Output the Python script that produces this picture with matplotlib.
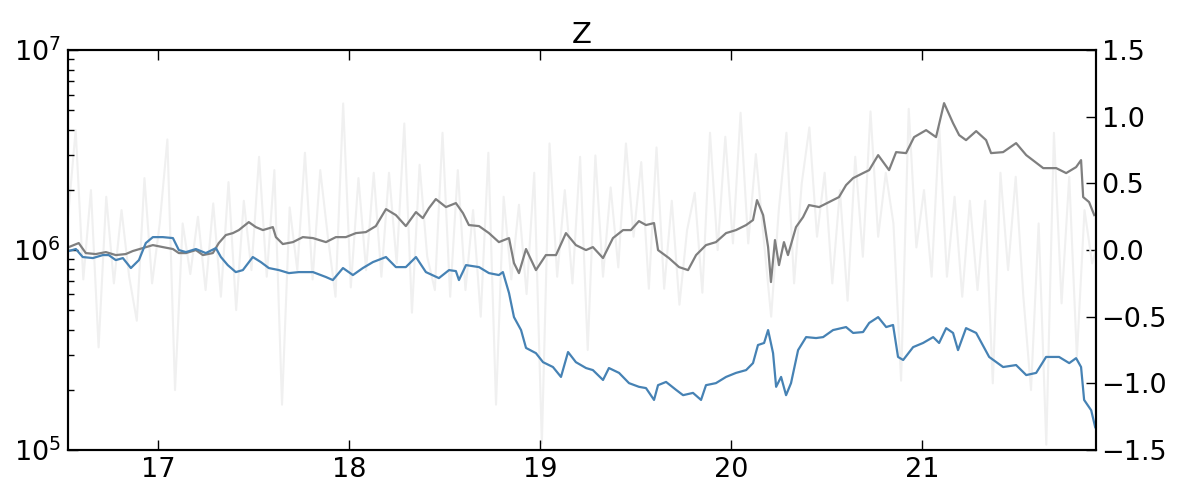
import numpy as np
import matplotlib
matplotlib.use("Agg")
import matplotlib.pyplot as plt

# grey series (left, log axis)
grey_x = [16.534, 16.586, 16.623, 16.675, 16.728, 16.780, 16.832, 16.869, 16.921, 16.974,
          17.026, 17.079, 17.110, 17.147, 17.199, 17.236, 17.288, 17.319, 17.356, 17.393,
          17.424, 17.476, 17.513, 17.550, 17.602, 17.618, 17.654, 17.707, 17.759, 17.812,
          17.880, 17.932, 17.984, 18.037, 18.089, 18.141, 18.194, 18.246, 18.298, 18.351,
          18.387, 18.419, 18.455, 18.508, 18.560, 18.597, 18.628, 18.681, 18.733, 18.785,
          18.838, 18.864, 18.890, 18.927, 18.979, 19.031, 19.084, 19.136, 19.188, 19.241,
          19.277, 19.330, 19.382, 19.435, 19.476, 19.518, 19.555, 19.597, 19.618, 19.675,
          19.728, 19.775, 19.817, 19.869, 19.921, 19.974, 20.026, 20.079, 20.115, 20.136,
          20.168, 20.194, 20.209, 20.230, 20.251, 20.277, 20.298, 20.340, 20.377, 20.408,
          20.461, 20.513, 20.565, 20.602, 20.639, 20.691, 20.723, 20.770, 20.827, 20.864,
          20.916, 20.958, 21.021, 21.073, 21.115, 21.162, 21.194, 21.230, 21.283, 21.335,
          21.361, 21.424, 21.492, 21.545, 21.634, 21.702, 21.754, 21.806, 21.832, 21.843,
          21.874, 21.901]
grey_y = [1.035e6, 1.084e6, 0.966e6, 0.955e6, 0.977e6, 0.944e6, 0.955e6, 0.989e6, 1.023e6, 1.059e6,
          1.035e6, 1.012e6, 0.966e6, 0.966e6, 1.000e6, 0.944e6, 0.966e6, 1.084e6, 1.189e6, 1.216e6,
          1.259e6, 1.380e6, 1.303e6, 1.259e6, 1.303e6, 1.161e6, 1.072e6, 1.096e6, 1.161e6, 1.148e6,
          1.096e6, 1.161e6, 1.161e6, 1.216e6, 1.230e6, 1.318e6, 1.603e6, 1.496e6, 1.318e6, 1.549e6,
          1.445e6, 1.622e6, 1.799e6, 1.641e6, 1.718e6, 1.531e6, 1.334e6, 1.318e6, 1.216e6, 1.096e6,
          1.148e6, 0.861e6, 0.767e6, 1.012e6, 0.794e6, 0.944e6, 0.944e6, 1.216e6, 1.059e6, 1.000e6,
          1.035e6, 0.912e6, 1.148e6, 1.259e6, 1.259e6, 1.396e6, 1.334e6, 1.365e6, 1.000e6, 0.912e6,
          0.822e6, 0.794e6, 0.944e6, 1.059e6, 1.096e6, 1.216e6, 1.259e6, 1.334e6, 1.413e6, 1.778e6,
          1.496e6, 1.035e6, 0.692e6, 1.122e6, 0.841e6, 1.096e6, 0.944e6, 1.303e6, 1.462e6, 1.679e6,
          1.641e6, 1.738e6, 1.841e6, 2.113e6, 2.291e6, 2.427e6, 2.512e6, 2.985e6, 2.512e6, 3.090e6,
          3.055e6, 3.673e6, 3.981e6, 3.673e6, 5.433e6, 4.315e6, 3.758e6, 3.548e6, 3.936e6, 3.548e6,
          3.055e6, 3.090e6, 3.428e6, 2.985e6, 2.570e6, 2.570e6, 2.427e6, 2.600e6, 2.818e6, 1.841e6,
          1.738e6, 1.496e6]

# blue series (left, log axis)
blue_x = [16.534, 16.571, 16.607, 16.660, 16.712, 16.743, 16.780, 16.817, 16.859, 16.901,
          16.937, 16.974, 17.026, 17.079, 17.110, 17.147, 17.199, 17.251, 17.304, 17.330,
          17.366, 17.408, 17.445, 17.497, 17.539, 17.581, 17.634, 17.686, 17.738, 17.812,
          17.880, 17.916, 17.969, 18.021, 18.073, 18.126, 18.194, 18.246, 18.298, 18.351,
          18.403, 18.471, 18.524, 18.560, 18.576, 18.613, 18.681, 18.733, 18.785, 18.806,
          18.838, 18.864, 18.901, 18.927, 18.979, 19.016, 19.068, 19.110, 19.147, 19.188,
          19.241, 19.277, 19.330, 19.361, 19.414, 19.466, 19.518, 19.555, 19.597, 19.618,
          19.660, 19.712, 19.749, 19.801, 19.843, 19.869, 19.921, 19.974, 20.026, 20.079,
          20.115, 20.141, 20.173, 20.194, 20.220, 20.236, 20.262, 20.288, 20.314, 20.351,
          20.393, 20.445, 20.482, 20.534, 20.602, 20.639, 20.691, 20.723, 20.770, 20.812,
          20.848, 20.874, 20.901, 20.953, 21.005, 21.058, 21.089, 21.126, 21.162, 21.188,
          21.230, 21.283, 21.351, 21.424, 21.492, 21.545, 21.597, 21.649, 21.717, 21.770,
          21.806, 21.832, 21.848, 21.885, 21.906]
blue_y = [0.989e6, 1.012e6, 0.923e6, 0.912e6, 0.944e6, 0.944e6, 0.891e6, 0.912e6, 0.813e6, 0.891e6,
          1.084e6, 1.161e6, 1.161e6, 1.148e6, 1.000e6, 0.977e6, 1.012e6, 0.966e6, 1.023e6, 0.923e6,
          0.841e6, 0.776e6, 0.794e6, 0.923e6, 0.871e6, 0.813e6, 0.794e6, 0.767e6, 0.776e6, 0.776e6,
          0.733e6, 0.708e6, 0.813e6, 0.750e6, 0.813e6, 0.871e6, 0.923e6, 0.822e6, 0.822e6, 0.923e6,
          0.776e6, 0.724e6, 0.794e6, 0.785e6, 0.708e6, 0.841e6, 0.822e6, 0.767e6, 0.750e6, 0.776e6,
          0.610e6, 0.462e6, 0.398e6, 0.324e6, 0.305e6, 0.275e6, 0.260e6, 0.232e6, 0.309e6, 0.275e6,
          0.257e6, 0.251e6, 0.224e6, 0.257e6, 0.243e6, 0.216e6, 0.207e6, 0.204e6, 0.178e6, 0.211e6,
          0.219e6, 0.200e6, 0.188e6, 0.193e6, 0.178e6, 0.211e6, 0.216e6, 0.232e6, 0.243e6, 0.251e6,
          0.272e6, 0.335e6, 0.343e6, 0.398e6, 0.305e6, 0.207e6, 0.232e6, 0.188e6, 0.216e6, 0.316e6,
          0.367e6, 0.363e6, 0.367e6, 0.398e6, 0.412e6, 0.385e6, 0.389e6, 0.432e6, 0.462e6, 0.412e6,
          0.422e6, 0.292e6, 0.282e6, 0.327e6, 0.343e6, 0.367e6, 0.343e6, 0.407e6, 0.385e6, 0.316e6,
          0.407e6, 0.385e6, 0.292e6, 0.260e6, 0.266e6, 0.237e6, 0.243e6, 0.292e6, 0.292e6, 0.272e6,
          0.288e6, 0.260e6, 0.178e6, 0.158e6, 0.130e6]

# light noisy series (right axis), sampled every 0.04 from 16.53
noise_y = [0.25, 0.90, -0.22, 0.45, -0.73, 0.40, -0.25, 0.30, -0.20, -0.53,
           0.54, -0.25, 0.20, 0.83, -1.05, 0.20, -0.18, 0.25, -0.30, 0.35,
           -0.35, 0.51, -0.45, 0.37, -0.15, 0.70, -0.20, 0.60, -1.16, 0.32,
           -0.15, 0.73, -0.22, 0.60, 0.10, -0.35, 1.10, -0.28, 0.54, -0.15,
           0.58, -0.20, 0.58, -0.10, 0.95, -0.47, 0.64, -0.05, -0.30, 0.88,
           -0.35, 0.60, -0.30, 0.30, -0.50, 0.73, -1.16, 0.40, -0.22, 0.34,
           -0.33, 0.58, -1.45, 0.80, -0.20, 0.45, -0.25, 0.70, -0.75, 0.71,
           -0.20, 0.47, -0.13, 0.80, 0.10, 0.66, -0.29, 0.77, -0.29, 0.37,
           -0.41, 0.15, 0.43, -0.32, 0.88, 0.00, 0.85, 0.05, 1.03, 0.05,
           0.72, 0.10, -0.50, 0.30, 0.88, -0.25, 0.50, 0.92, 0.10, 0.58,
           -0.25, 0.45, -0.38, 0.70, -0.05, 1.04, 0.10, 0.58, 0.20, -0.98,
           1.06, 0.02, 0.45, -0.20, 0.92, -0.20, 0.40, -0.35, 0.37, -0.30,
           0.37, -1.00, 0.58, -0.15, 0.55, -0.35, -1.05, 0.20, -1.46, 0.88,
           -0.40, 0.55, -0.80, 0.30, -0.10, 0.10]
noise_x = 16.53 + 0.04 * np.arange(len(noise_y))

x_ticks = [17, 18, 19, 20, 21]
right_ticks = [-1.5, -1.0, -0.5, 0.0, 0.5, 1.0, 1.5]

plt.rcParams["font.size"] = 19.5
plt.rcParams["xtick.direction"] = "in"
plt.rcParams["ytick.direction"] = "in"

fig = plt.figure(figsize=(11.81, 4.87), dpi=100)
ax = fig.add_axes([0.0576, 0.076, 0.8704, 0.821])
ax2 = ax.twinx()

ax2.plot(noise_x, noise_y, color="0.94", linewidth=1.5)
ax.plot(grey_x, grey_y, color="#7f7f7f", linewidth=1.6)
ax.plot(blue_x, blue_y, color="#4682b4", linewidth=1.6)

ax.set_zorder(ax2.get_zorder() + 1)
ax.patch.set_visible(False)

ax.set_yscale("log")
ax.set_ylim(1e5, 1e7)
ax.set_xlim(16.53, 21.91)
ax.set_xticks(x_ticks)
ax2.set_ylim(-1.5, 1.5)
ax2.set_yticks(right_ticks)

ax.tick_params(axis="x", which="both", top=True, length=7, width=1, pad=5)
ax.tick_params(axis="y", which="major", length=7, width=1, pad=5)
ax.tick_params(axis="y", which="minor", length=4, width=1)
ax2.tick_params(axis="y", which="major", length=7, width=1, pad=4)
for a in (ax, ax2):
    for s in a.spines.values():
        s.set_linewidth(1.5)

ax.set_title("Z", fontsize=21, pad=5)

fig.savefig("out.png", dpi=100)
